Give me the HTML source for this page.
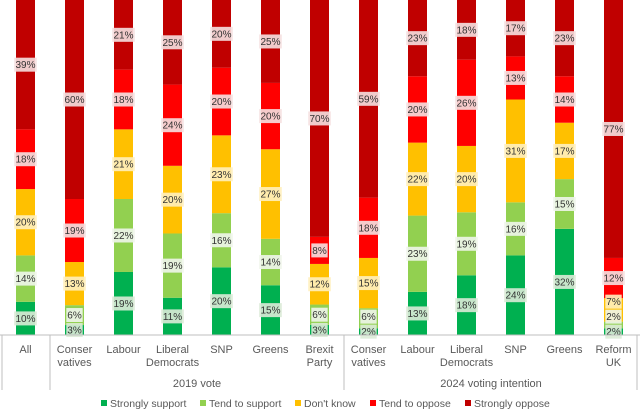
<!DOCTYPE html>
<html><head><meta charset="utf-8"><style>
body{margin:0;background:#fff;font-family:"Liberation Sans",sans-serif}
svg text{font-family:"Liberation Sans",sans-serif}
</style></head><body>
<svg id="chart" width="640" height="410"></svg>
<script>
const categories=["All","Conser|vatives","Labour","Liberal|Democrats","SNP","Greens","Brexit|Party","Conser|vatives","Labour","Liberal|Democrats","SNP","Greens","Reform|UK"];
const seriesNames=["Strongly support","Tend to support","Don't know","Tend to oppose","Strongly oppose"];
const strongSupport=[10,3,19,11,20,15,3,2,13,18,24,32,2];
const tendSupport=[14,6,22,19,16,14,6,6,23,19,16,15,2];
const dontKnow=[20,13,21,20,23,27,12,15,22,20,31,17,7];
const tendOppose=[18,19,18,24,20,20,8,18,20,26,13,14,12];
const strongOppose=[39,60,21,25,20,25,70,59,23,18,17,23,77];
const series=[strongSupport,tendSupport,dontKnow,tendOppose,strongOppose];
const colors=["#00B050","#92D050","#FFC000","#FF0000","#C00000"];
const labelBg=["rgba(220,235,215,0.9)","rgba(240,245,235,0.9)","rgba(255,240,190,0.9)","rgba(245,225,225,0.9)","rgba(245,225,225,0.9)"];
const NS="http://www.w3.org/2000/svg";
const svg=document.getElementById("chart");
const top0=0,base=335,x0=25.5,step=49,bw=19;
const xPos=i=>x0+i*step;
function mk(t,a,p){const e=document.createElementNS(NS,t);for(const k in a)e.setAttribute(k,a[k]);(p||svg).appendChild(e);return e;}
const labels=[];
categories.forEach((c,i)=>{
  let tot=0;series.forEach(s=>tot+=s[i]);
  let cum=0;let prevY=1e9;
  series.forEach((s,k)=>{
    const y1=base-(cum+s[i])/tot*(base-top0), y0=base-cum/tot*(base-top0);
    const r=mk("rect",{x:xPos(i)-bw/2,y:y1,width:bw,height:y0-y1,fill:colors[k]});
    
    
    let ly=Math.min((y0+y1)/2,prevY-15);
    prevY=ly;
    labels.push([xPos(i),ly,s[i],k]);
    cum+=s[i];
  });
});
labels.forEach(([x,y,v,k])=>{
  const t=v+"%";const w=t.length*6.2+4;
  const r=mk("rect",{x:x-w/2,y:y-7,width:w,height:14,fill:labelBg[k]});
  
  
  const tx=mk("text",{x:x,y:y+3.5,"text-anchor":"middle","font-size":"10","fill":"#333"});
  tx.textContent=t;
  
  
});
mk("line",{x1:0,y1:base,x2:640,y2:base,stroke:"#bfbfbf"});
[[2,390],[50,390],[344,390],[637,390]].forEach(([x,y])=>mk("line",{x1:x,y1:base,x2:x,y2:y,stroke:"#bfbfbf"}));
categories.forEach((c,i)=>{
  c.split("|").forEach((ln,j)=>{
    const t=mk("text",{x:xPos(i),y:353+j*13,"text-anchor":"middle","font-size":"11",fill:"#595959"});
    t.textContent=ln;
    
    
  });
});
[["2019 vote",197],["2024 voting intention",491]].forEach(([s,x])=>{
  const t=mk("text",{x:x,y:387,"text-anchor":"middle","font-size":"11",fill:"#595959"});
  t.textContent=s;
  
  
});
const lx=[101,200,295,370,465];
seriesNames.forEach((n,k)=>{
  const g=mk("g",{});
  
  
  mk("rect",{x:lx[k],y:400,width:6,height:6,fill:colors[k]},g);
  const t=mk("text",{x:lx[k]+9,y:407,"font-size":"10.5",fill:"#595959"},g);
  t.textContent=n;
});
</script>
</body></html>
